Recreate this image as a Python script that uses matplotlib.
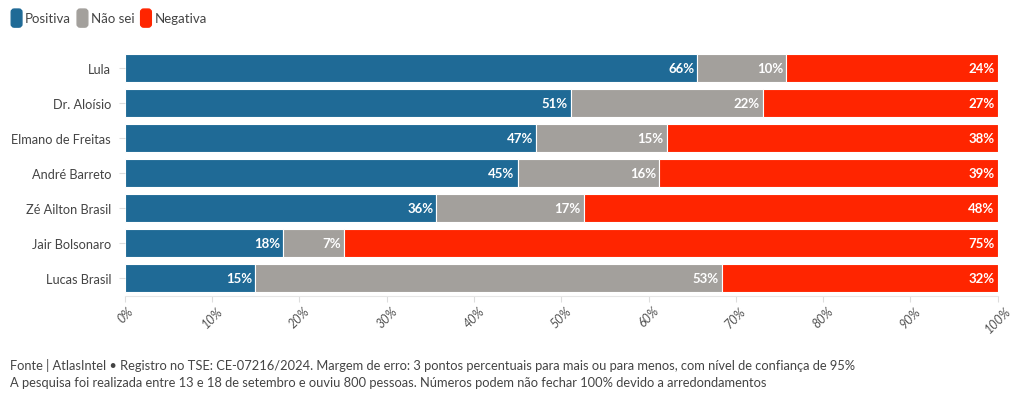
import matplotlib.pyplot as plt
from matplotlib.patches import FancyBboxPatch
import numpy as np

plt.rcParams['font.family'] = ['Lato', 'DejaVu Sans']

candidatos = ['Lula', 'Dr. Aloísio', 'Elmano de Freitas', 'André Barreto',
              'Zé Ailton Brasil', 'Jair Bolsonaro', 'Lucas Brasil']
# segment widths (unrounded)
positiva = [65.6, 51.1, 47.1, 45.0, 35.7, 18.1, 14.9]
nao_sei = [10.2, 22.0, 15.0, 16.2, 16.9, 7.0, 53.5]
negativa = [24.2, 26.9, 37.9, 38.8, 47.4, 74.9, 31.6]
# printed labels
lab_pos = [66, 51, 47, 45, 36, 18, 15]
lab_nao = [10, 22, 15, 16, 17, 7, 53]
lab_neg = [24, 27, 38, 39, 48, 75, 32]

azul = '#1f6a96'
cinza = '#a3a09c'
vermelho = '#ff2500'

fig = plt.figure(figsize=(10.2, 4.02), dpi=100)
ax = fig.add_axes([0.1225, 0.2624, 0.8555, 0.6106])

y = np.arange(len(candidatos))
pos = np.array(positiva)
nao = np.array(nao_sei)
neg = np.array(negativa)

ax.barh(y, pos, height=0.8, color=azul, edgecolor='white', linewidth=0.8)
ax.barh(y, nao, left=pos, height=0.8, color=cinza, edgecolor='white', linewidth=0.8)
ax.barh(y, neg, left=pos + nao, height=0.8, color=vermelho, edgecolor='white', linewidth=0.8)

for i in range(len(candidatos)):
    for end, lab in [(pos[i], lab_pos[i]), (pos[i] + nao[i], lab_nao[i]),
                     (pos[i] + nao[i] + neg[i], lab_neg[i])]:
        ax.text(end - 0.35, y[i], f'{lab}%', ha='right', va='center',
                color='white', fontsize=9.5, fontweight='bold')

ax.set_xlim(0, 100)
ax.set_ylim(len(candidatos) - 0.5, -0.5)
ax.set_yticks(y)
ax.set_yticklabels(candidatos, fontsize=9.2, color='#444444')
ax.set_xticks(np.arange(0, 101, 10))
ax.set_xticklabels([f'{v}%' for v in range(0, 101, 10)], rotation=45,
                   fontsize=9, color='#555555', style='italic')
ax.tick_params(axis='y', length=4, color='#dddddd', pad=6)
ax.tick_params(axis='x', length=4, color='#dddddd', pad=2)
for s in ['top', 'right', 'left']:
    ax.spines[s].set_visible(False)
ax.spines['bottom'].set_color('#e6e6e6')

# legend
lx = 0.011
for nome, cor in [('Positiva', azul), ('Não sei', cinza), ('Negativa', vermelho)]:
    box = FancyBboxPatch((lx, 0.930), 0.0105, 0.045,
                         boxstyle='round,pad=0,rounding_size=0.003',
                         transform=fig.transFigure, color=cor, mutation_aspect=2.5)
    fig.patches.append(box)
    t = fig.text(lx + 0.0135, 0.952, nome, fontsize=9.5, color='#444444', va='center')
    fig.canvas.draw()
    bb = t.get_window_extent().transformed(fig.transFigure.inverted())
    lx = bb.x1 + 0.006

fig.text(0.010, 0.092, 'Fonte | AtlasIntel • Registro no TSE: CE-07216/2024. Margem de erro: 3 pontos '
         'percentuais para mais ou para menos, com nível de confiança de 95%',
         fontsize=9.3, color='#444444', va='center')
fig.text(0.010, 0.047, 'A pesquisa foi realizada entre 13 e 18 de setembro e ouviu 800 pessoas. '
         'Números podem não fechar 100% devido a arredondamentos',
         fontsize=9.3, color='#444444', va='center')

fig.savefig('out.png', dpi=100)
